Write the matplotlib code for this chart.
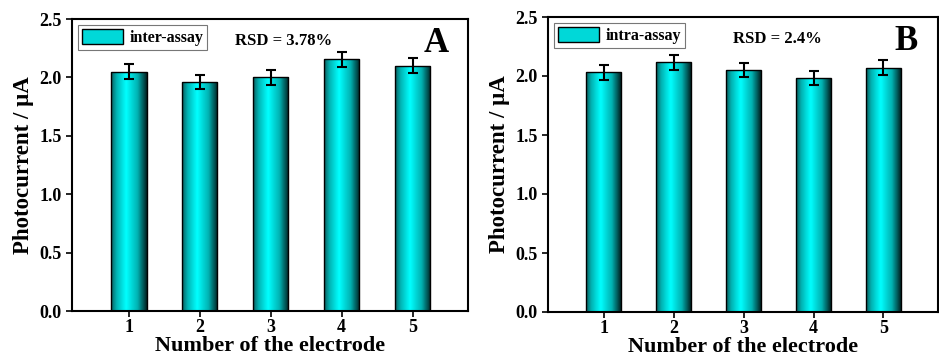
import numpy as np
import matplotlib
matplotlib.use("Agg")
from matplotlib import pyplot as plt
from matplotlib.colors import LinearSegmentedColormap

electrodes = [1, 2, 3, 4, 5]
inter_vals = [2.05, 1.96, 2.00, 2.155, 2.10]
inter_err = [0.063, 0.063, 0.063, 0.065, 0.063]
intra_vals = [2.03, 2.118, 2.05, 1.982, 2.072]
intra_err = [0.062, 0.063, 0.062, 0.062, 0.062]

plt.rcParams["font.family"] = ["Liberation Serif", "DejaVu Serif"]
plt.rcParams["font.weight"] = "bold"

cyl = LinearSegmentedColormap.from_list(
    "cyl", [(0, "#0b5f5f"), (0.15, "#00b4b4"), (0.42, "#00ffff"),
            (0.75, "#00b0b0"), (1.0, "#002424")])
grad = np.linspace(0, 1, 64).reshape(1, -1)


def panel(ax, vals, errs, label, rsd, rsd_x, letter):
    bars = ax.bar(electrodes, vals, width=0.5, color="none", edgecolor="black",
                  linewidth=1.0, zorder=3)
    for b in bars:
        x0, y0 = b.get_x(), b.get_y()
        w, h = b.get_width(), b.get_height()
        im = ax.imshow(grad, cmap=cyl, aspect="auto", extent=[x0, x0 + w, y0, y0 + h],
                       zorder=2, interpolation="bilinear")
        im.set_clip_path(b)
    ax.errorbar(electrodes, vals, yerr=errs, fmt="none", ecolor="black",
                elinewidth=1.5, capsize=3.5, capthick=1.5, zorder=4)
    ax.set_xlim(0.2, 5.78)
    ax.set_ylim(0, 2.5)
    ax.set_xticks(electrodes)
    ax.set_yticks([0.0, 0.5, 1.0, 1.5, 2.0, 2.5])
    ax.set_yticklabels(["0.0", "0.5", "1.0", "1.5", "2.0", "2.5"])
    ax.tick_params(labelsize=13, direction="out", length=4, width=1.2)
    ax.tick_params(axis="x", pad=1.5)
    for s in ax.spines.values():
        s.set_linewidth(1.5)
    ax.set_xlabel("Number of the electrode", fontsize=16, fontweight="bold", labelpad=0)
    ax.set_ylabel("Photocurrent / \u03bcA", fontsize=16.5, fontweight="bold", labelpad=4)
    leg = ax.legend([bars[0]], [label], loc="upper left", fontsize=11.5,
                    frameon=True, fancybox=False, edgecolor="#555555",
                    handlelength=2.6, handleheight=1.1, borderpad=0.25,
                    handletextpad=0.4, borderaxespad=0.35)
    leg.legend_handles[0].set_facecolor("#00d8d8")
    leg.get_frame().set_linewidth(0.8)
    ax.text(rsd_x, 2.31, rsd, fontsize=12, fontweight="bold", va="center", ha="left")
    ax.text(5.33, 2.29, letter, fontsize=25, fontweight="bold", va="center", ha="center")


fig = plt.figure(figsize=(9.39, 3.57), dpi=100)
ax1 = fig.add_axes([72 / 939, 1 - 311 / 357, 396 / 939, 292 / 357])
ax2 = fig.add_axes([548 / 939, 1 - 312 / 357, 390 / 939, 295 / 357])

panel(ax1, inter_vals, inter_err, "inter-assay", "RSD = 3.78%", 2.5, "A")
panel(ax2, intra_vals, intra_err, "intra-assay", "RSD = 2.4%", 2.85, "B")

fig.savefig("out.png", dpi=100)
